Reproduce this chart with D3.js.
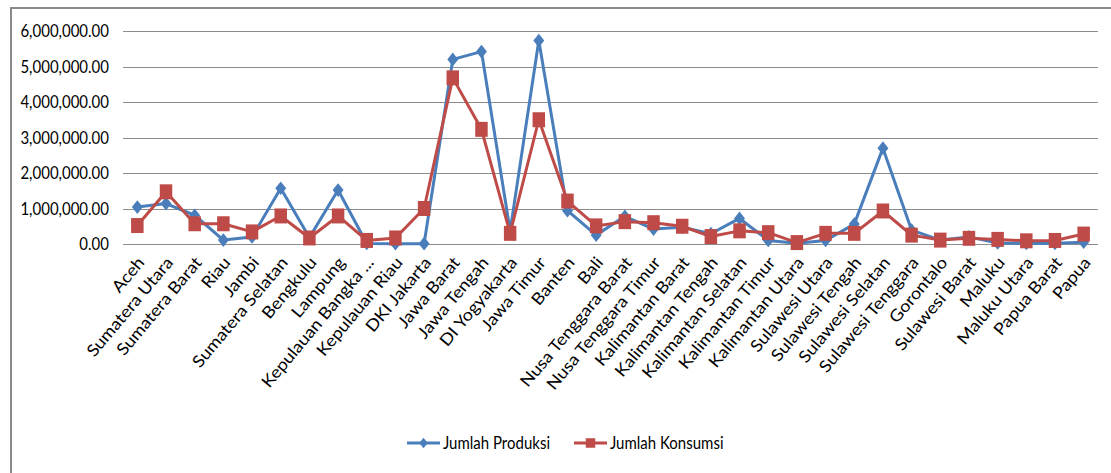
<!DOCTYPE html>
<html>
<head>
<meta charset="utf-8">
<script src="https://cdn.jsdelivr.net/npm/d3@7"></script>
<style>
  html, body { margin: 0; padding: 0; background: #fff; }
  svg { display: block; font-family: Lato, "Open Sans", sans-serif; }
</style>
</head>
<body>
<svg id="chart" width="1111" height="473"></svg>
<script>
// Provinces along the x axis
const provinces = [
  "Aceh", "Sumatera Utara", "Sumatera Barat", "Riau", "Jambi", "Sumatera Selatan",
  "Bengkulu", "Lampung", "Kepulauan Bangka ...", "Kepulauan Riau", "DKI Jakarta",
  "Jawa Barat", "Jawa Tengah", "DI Yogyakarta", "Jawa Timur", "Banten", "Bali",
  "Nusa Tenggara Barat", "Nusa Tenggara Timur", "Kalimantan Barat", "Kalimantan Tengah",
  "Kalimantan Selatan", "Kalimantan Timur", "Kalimantan Utara", "Sulawesi Utara",
  "Sulawesi Tengah", "Sulawesi Selatan", "Sulawesi Tenggara", "Gorontalo",
  "Sulawesi Barat", "Maluku", "Maluku Utara", "Papua Barat", "Papua"
];

// Jumlah Produksi per province
const produksi = [
  1040000, 1140000, 810000, 110000, 200000, 1570000,
  180000, 1520000, 15000, 10000, 10000,
  5200000, 5420000, 370000, 5730000, 940000, 250000,
  780000, 420000, 470000, 290000,
  720000, 100000, 20000, 100000,
  560000, 2700000, 390000, 110000,
  200000, 30000, 15000, 20000, 50000
];

// Jumlah Konsumsi per province
const konsumsi = [
  520000, 1470000, 570000, 570000, 340000, 790000,
  170000, 790000, 100000, 170000, 1000000,
  4680000, 3230000, 300000, 3500000, 1210000, 510000,
  630000, 600000, 500000, 210000,
  370000, 320000, 40000, 300000,
  300000, 930000, 250000, 110000,
  160000, 130000, 90000, 100000, 280000
];

// Value axis ticks
const yTicks = [0, 1000000, 2000000, 3000000, 4000000, 5000000, 6000000];

const seriesNames = ["Jumlah Produksi", "Jumlah Konsumsi"];
const seriesColors = ["#4a7ebb", "#be4b48"];

// Horizontal text is drawn slightly tall and narrow
const TEXT_STRETCH = 1.15;

const svg = d3.select("#chart");

// Outer chart frame (left and top edges visible)
svg.append("path")
  .attr("d", "M11,473 L11,8 L1111,8")
  .attr("fill", "none")
  .attr("stroke", "#8a8a8a")
  .attr("stroke-width", 2);

const x = d3.scalePoint()
  .domain(provinces)
  .range([123, 1098])
  .padding(0.5);

const y = d3.scaleLinear()
  .domain([0, 6000000])
  .range([244, 31]);

const fmt = d3.format(",.2f");

// Horizontal gridlines
svg.append("g")
  .selectAll("line")
  .data(yTicks)
  .join("line")
  .attr("x1", 123)
  .attr("x2", 1098)
  .attr("y1", d => Math.round(y(d)) + 0.5)
  .attr("y2", d => Math.round(y(d)) + 0.5)
  .attr("stroke", "#8c8c8c")
  .attr("stroke-width", 1.2);

// Value axis labels
svg.append("g")
  .selectAll("text")
  .data(yTicks)
  .join("text")
  .attr("transform", d => `translate(109,${y(d)}) scale(1,${TEXT_STRETCH})`)
  .attr("text-anchor", "end")
  .attr("dy", "0.36em")
  .attr("font-size", 15)
  .attr("fill", "#000")
  .text(d => fmt(d));

// Province labels, rotated
svg.append("g")
  .selectAll("text")
  .data(provinces)
  .join("text")
  .attr("transform", d => `translate(${x(d) + 8},${263}) rotate(-50) scale(1.1,1)`)
  .attr("text-anchor", "end")
  .attr("font-size", 16.5)
  .attr("fill", "#000")
  .text(d => d);

const line = d3.line()
  .x((d, i) => x(provinces[i]))
  .y(d => y(d));

// Rhombus marker, a little taller than wide
const rhombus = {
  draw(ctx, size) {
    const a = Math.sqrt(size / 2.5);
    const b = a * 1.25;
    ctx.moveTo(0, -b);
    ctx.lineTo(a, 0);
    ctx.lineTo(0, b);
    ctx.lineTo(-a, 0);
    ctx.closePath();
  }
};
const diamond = d3.symbol().type(rhombus).size(75);
const square = d3.symbol().type(d3.symbolSquare).size(156);

// Jumlah Produksi series
svg.append("path")
  .datum(produksi)
  .attr("d", line)
  .attr("fill", "none")
  .attr("stroke", seriesColors[0])
  .attr("stroke-width", 3)
  .attr("stroke-linejoin", "round");

svg.append("g")
  .selectAll("path")
  .data(produksi)
  .join("path")
  .attr("transform", (d, i) => `translate(${x(provinces[i])},${y(d)})`)
  .attr("d", diamond)
  .attr("fill", seriesColors[0]);

// Jumlah Konsumsi series
svg.append("path")
  .datum(konsumsi)
  .attr("d", line)
  .attr("fill", "none")
  .attr("stroke", seriesColors[1])
  .attr("stroke-width", 3)
  .attr("stroke-linejoin", "round");

svg.append("g")
  .selectAll("path")
  .data(konsumsi)
  .join("path")
  .attr("transform", (d, i) => `translate(${x(provinces[i])},${y(d)}) scale(1,1.2)`)
  .attr("d", square)
  .attr("fill", seriesColors[1]);

// Legend
const legendItems = [
  { name: seriesNames[0], color: seriesColors[0], symbol: d3.symbol().type(rhombus).size(45), x0: 407 },
  { name: seriesNames[1], color: seriesColors[1], symbol: d3.symbol().type(d3.symbolSquare).size(90), x0: 574 }
];

const legend = svg.append("g").selectAll("g")
  .data(legendItems)
  .join("g")
  .attr("transform", d => `translate(${d.x0},443)`);

legend.append("line")
  .attr("x1", 0).attr("x2", 33)
  .attr("stroke", d => d.color)
  .attr("stroke-width", 3);

legend.append("path")
  .attr("transform", "translate(16.5,0)")
  .attr("d", d => d.symbol())
  .attr("fill", d => d.color);

legend.append("text")
  .attr("transform", `translate(36,0) scale(1,${TEXT_STRETCH})`)
  .attr("dy", "0.36em")
  .attr("font-size", 15)
  .attr("fill", "#000")
  .text(d => d.name);
</script>
</body>
</html>
